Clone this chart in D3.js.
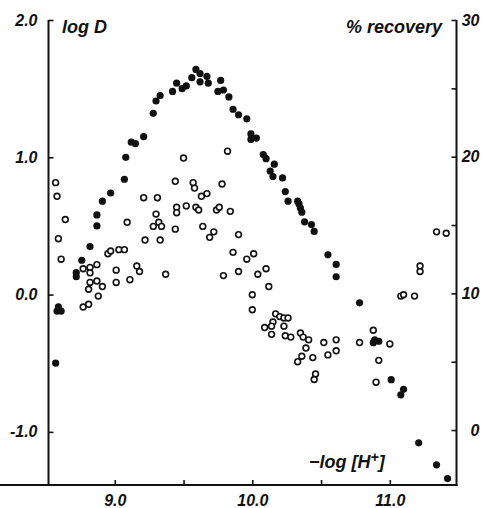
<!DOCTYPE html>
<html>
<head>
<meta charset="utf-8">
<script src="https://cdn.jsdelivr.net/npm/d3@7"></script>
<style>
  body { margin: 0; background: #fff; }
  svg text { font-family: "Liberation Sans", Arial, sans-serif; font-style: italic; fill: #111; }
</style>
</head>
<body>
<svg id="chart" width="483" height="508" viewBox="0 0 483 508"></svg>
<script>
// -log[H+] vs log D (filled circles, left axis)
const logDPoints = [
  [8.57, -0.50], [8.58, -0.12], [8.61, -0.12], [8.59, -0.09], [8.72, 0.13], [8.72, 0.16],
  [8.76, 0.25], [8.82, 0.35], [8.87, 0.50], [8.87, 0.58], [8.91, 0.68], [8.97, 0.74],
  [9.07, 0.84], [9.08, 1.00], [9.12, 1.11], [9.15, 1.10], [9.21, 1.15], [9.28, 1.32],
  [9.30, 1.41], [9.33, 1.45], [9.42, 1.48], [9.45, 1.54], [9.49, 1.50], [9.52, 1.52],
  [9.56, 1.58], [9.59, 1.64], [9.62, 1.61], [9.62, 1.55], [9.67, 1.59], [9.68, 1.54],
  [9.77, 1.56], [9.75, 1.48], [9.79, 1.49], [9.83, 1.44], [9.86, 1.35], [9.90, 1.31],
  [9.96, 1.28], [9.99, 1.17], [9.99, 1.13], [10.03, 1.14], [10.08, 1.02], [10.10, 0.99],
  [10.13, 0.90], [10.15, 0.86], [10.16, 0.95], [10.22, 0.85], [10.24, 0.75], [10.26, 0.68],
  [10.33, 0.68], [10.34, 0.66], [10.35, 0.63], [10.36, 0.60], [10.38, 0.53], [10.43, 0.51],
  [10.45, 0.46], [10.55, 0.29], [10.61, 0.22], [10.61, 0.13], [10.78, -0.06], [10.88, -0.35],
  [10.89, -0.33], [10.92, -0.34], [11.01, -0.62], [11.10, -0.69], [11.08, -0.73], [11.21, -1.08],
  [11.34, -1.24], [11.42, -1.34]
];

// -log[H+] vs % recovery (open circles, right axis)
const recoveryPoints = [
  [8.57, 18.1], [8.58, 17.1], [8.64, 15.4], [8.59, 14.0], [8.61, 12.5], [8.77, 11.8],
  [8.82, 11.9], [8.87, 12.1], [8.82, 11.5], [8.82, 10.8], [8.87, 10.9], [8.91, 10.5],
  [8.81, 10.3], [8.88, 9.8], [8.77, 9.0], [8.81, 9.2], [8.95, 12.9], [8.97, 13.1],
  [9.03, 13.2], [9.07, 13.2], [9.01, 11.7], [9.01, 10.8], [9.11, 11.0], [9.16, 12.0],
  [9.18, 11.6], [9.09, 15.2], [9.21, 17.0], [9.31, 17.0], [9.30, 15.8], [9.28, 14.9],
  [9.32, 15.2], [9.34, 14.9], [9.22, 13.9], [9.33, 13.9], [9.37, 11.4], [9.50, 19.9],
  [9.82, 20.4], [9.44, 18.2], [9.57, 18.1], [9.58, 17.7], [9.67, 17.3], [9.63, 17.1],
  [9.78, 18.0], [9.45, 16.3], [9.45, 15.9], [9.52, 16.4], [9.59, 16.3], [9.61, 16.1],
  [9.44, 14.7], [9.64, 14.9], [9.72, 14.5], [9.69, 14.1], [9.74, 16.1], [9.76, 16.3],
  [9.84, 16.0], [9.90, 14.3], [9.86, 13.0], [9.79, 11.3], [9.90, 11.6], [9.96, 12.5],
  [10.01, 12.9], [10.04, 11.4], [10.10, 11.8], [10.12, 10.5], [10.00, 9.9], [10.00, 8.8],
  [10.17, 8.5], [10.20, 8.3], [10.23, 8.2], [10.26, 8.2], [10.15, 7.9], [10.14, 7.6],
  [10.09, 7.5], [10.23, 7.6], [10.14, 7.0], [10.24, 6.9], [10.28, 6.8], [10.35, 7.1],
  [10.37, 6.8], [10.41, 6.6], [10.39, 6.0], [10.36, 5.4], [10.33, 5.0], [10.44, 5.3],
  [10.52, 6.4], [10.55, 5.5], [10.61, 6.6], [10.61, 5.8], [10.46, 4.1], [10.45, 3.7],
  [10.78, 6.4], [10.88, 7.3], [11.00, 6.3], [10.92, 5.1], [10.90, 3.5], [11.08, 9.8],
  [11.10, 9.9], [11.18, 9.8], [11.22, 12.0], [11.22, 11.6], [11.34, 14.5], [11.41, 14.4]
];

const xTicks = [9.0, 9.5, 10.0, 10.5, 11.0];
const xLabels = [9.0, 10.0, 11.0];
const logDTicks = [-1.0, 0.0, 1.0, 2.0];
const recoveryTicks = [0, 5, 10, 15, 20, 25, 30];
const recoveryLabels = [0, 10, 20, 30];

const svg = d3.select("#chart");

const x = d3.scaleLinear().domain([8.518, 11.485]).range([48.5, 456.5]);
const yLeft = d3.scaleLinear().domain([-1.387, 2.0]).range([485, 20]);
const yRight = d3.scaleLinear().domain([-4.02, 30]).range([485, 20]);

// axes
const leftAxis = svg.append("g")
    .attr("transform", "translate(48.5,0)")
    .call(d3.axisLeft(yLeft)
        .tickValues(logDTicks)
        .tickSizeInner(-5)
        .tickSizeOuter(0)
        .tickPadding(11)
        .tickFormat(d => d.toFixed(1)));

const bottomAxis = svg.append("g")
    .attr("transform", "translate(0,485)")
    .call(d3.axisBottom(x)
        .tickValues(xTicks)
        .tickSizeInner(-5)
        .tickSizeOuter(0)
        .tickPadding(10)
        .tickFormat(d => xLabels.includes(d) ? d.toFixed(1) : ""));

const rightAxis = svg.append("g")
    .attr("transform", "translate(456.5,0)")
    .call(d3.axisRight(yRight)
        .tickValues(recoveryTicks)
        .tickSizeInner(-5)
        .tickSizeOuter(0)
        .tickPadding(4)
        .tickFormat(d => recoveryLabels.includes(d) ? d : ""));

rightAxis.selectAll(".tick text")
    .attr("text-anchor", "end")
    .attr("x", 23);

[leftAxis, bottomAxis, rightAxis].forEach(g => {
    g.select(".domain").attr("stroke", "#111").attr("stroke-width", 2);
    g.selectAll(".tick line").attr("stroke", "#111").attr("stroke-width", 1.6);
    g.selectAll(".tick text")
        .attr("font-family", "Liberation Sans, Arial, sans-serif")
        .attr("font-style", "italic")
        .attr("font-weight", "bold")
        .attr("font-size", 16)
        .attr("fill", "#111");
});

// axis lines run the full height / width of the frame
leftAxis.select(".domain").attr("d", "M0,20V486");
rightAxis.select(".domain").attr("d", "M0,20V486");
bottomAxis.select(".domain").attr("d", "M-1,0H457.5");

// points
svg.append("g")
    .selectAll("circle")
    .data(recoveryPoints)
    .enter()
    .append("circle")
    .attr("cx", d => x(d[0]))
    .attr("cy", d => yRight(d[1]))
    .attr("r", 2.9)
    .attr("fill", "#fff")
    .attr("stroke", "#111")
    .attr("stroke-width", 1.6);

svg.append("g")
    .selectAll("circle")
    .data(logDPoints)
    .enter()
    .append("circle")
    .attr("cx", d => x(d[0]))
    .attr("cy", d => yLeft(d[1]))
    .attr("r", 3.6)
    .attr("fill", "#111");

// titles
svg.append("text")
    .attr("x", 62)
    .attr("y", 33)
    .attr("font-size", 18)
    .attr("font-weight", "bold")
    .text("log D");

svg.append("text")
    .attr("x", 442)
    .attr("y", 33)
    .attr("text-anchor", "end")
    .attr("font-size", 18)
    .attr("font-weight", "bold")
    .text("% recovery");

const hTitle = svg.append("text")
    .attr("x", 309)
    .attr("y", 468)
    .attr("font-size", 18)
    .attr("font-weight", "bold");
hTitle.append("tspan").text("\u2212log [H");
hTitle.append("tspan").attr("dy", -6).attr("font-size", 14).text("+");
hTitle.append("tspan").attr("dy", 6).text("]");
</script>
</body>
</html>
